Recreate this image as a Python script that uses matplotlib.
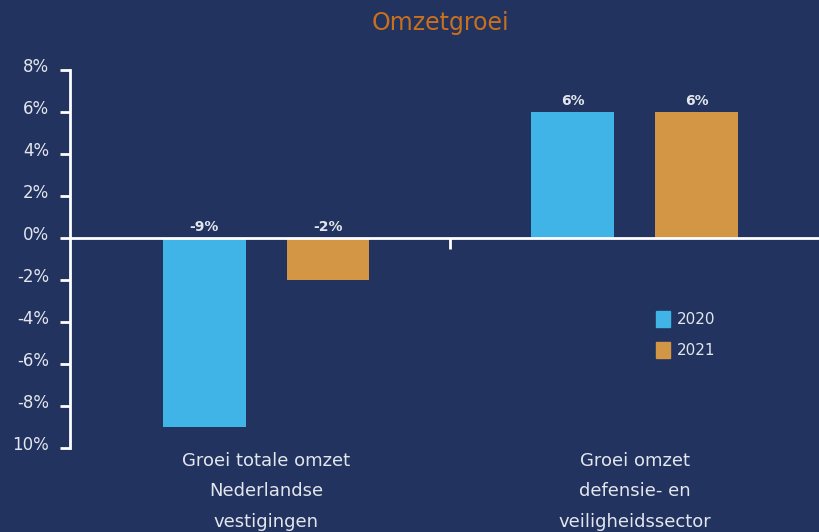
import numpy as np
import matplotlib
matplotlib.use("Agg")
import matplotlib.pyplot as plt
from matplotlib.patches import Patch
from matplotlib.transforms import ScaledTranslation

# Data
categories = ["Groei totale omzet\nNederlandse\nvestigingen",
              "Groei omzet\ndefensie- en\nveiligheidssector"]
years = ["2020", "2021"]
growth_2020 = [-9, 6]
growth_2021 = [-2, 6]
value_labels_2020 = ["-9%", "6%"]
value_labels_2021 = ["-2%", "6%"]
y_ticks = [8, 6, 4, 2, 0, -2, -4, -6, -8, -10]
y_ticklabels = ["8%", "6%", "4%", "2%", "0%", "-2%", "-4%", "-6%", "-8%", "10%"]

# Colours
bg = "#21335e"
c2020 = "#41b4e7"
c2021 = "#d39644"
txt = "#e4e6ee"
title_col = "#c8701e"

plt.rcParams['font.family'] = ['DejaVu Sans']

fig = plt.figure(figsize=(8.2, 5.32), dpi=100, facecolor=bg)
ax = fig.add_axes([70/820, 84/532, 750/820, 378/532], facecolor=bg)

x = np.arange(len(categories))
w = 0.225
off = 0.168
b1 = ax.bar(x - off, growth_2020, w, color=c2020, label=years[0], zorder=2)
b2 = ax.bar(x + off, growth_2021, w, color=c2021, label=years[1], zorder=2)

# value labels
for bars, labs in [(b1, value_labels_2020), (b2, value_labels_2021)]:
    for rect, lab in zip(bars, labs):
        h = rect.get_height()
        ypos = max(h, 0)
        ax.annotate(lab, (rect.get_x() + rect.get_width()/2, ypos),
                    xytext=(0, 3), textcoords="offset points",
                    ha="center", va="bottom", color=txt,
                    fontsize=10, fontweight="bold")

# zero line and category separator
ax.axhline(0, color="white", lw=2, zorder=3)
x_sep = (x[0] + x[1]) / 2
ax.vlines(x_sep, -0.5, 0, color="white", lw=2, zorder=3)

ax.set_xlim(-0.532, 1.503)
ax.set_ylim(-10, 8)
ax.set_yticks(y_ticks)
ax.set_yticklabels(y_ticklabels)
ax.set_xticks(x)
ax.set_xticklabels(categories, linespacing=1.87)
ax.tick_params(axis="y", colors="white", labelcolor=txt, length=7, width=2,
               labelsize=12, pad=8)
ax.tick_params(axis="x", length=0, labelcolor=txt, labelsize=13, pad=3)

# y labels sit a little above their ticks
shift = ScaledTranslation(0, 5/100, fig.dpi_scale_trans)
for lab in ax.get_yticklabels():
    lab.set_transform(lab.get_transform() + shift)

for s in ["top", "right", "bottom"]:
    ax.spines[s].set_visible(False)
ax.spines["left"].set_color("white")
ax.spines["left"].set_linewidth(2)

ax.legend(handles=[Patch(color=c2020, label=years[0]),
                   Patch(color=c2021, label=years[1])],
          loc="upper left", bbox_to_anchor=(0.767, 0.392), frameon=False,
          fontsize=11, labelcolor=txt, handlelength=0.95, handleheight=1.25,
          handletextpad=0.45, labelspacing=1.0, borderpad=0.2)

fig.text(440/820, 1 - 23/532, "Omzetgroei", color=title_col, fontsize=17,
         ha="center", va="center")

fig.savefig("out.png", dpi=100, facecolor=bg)
